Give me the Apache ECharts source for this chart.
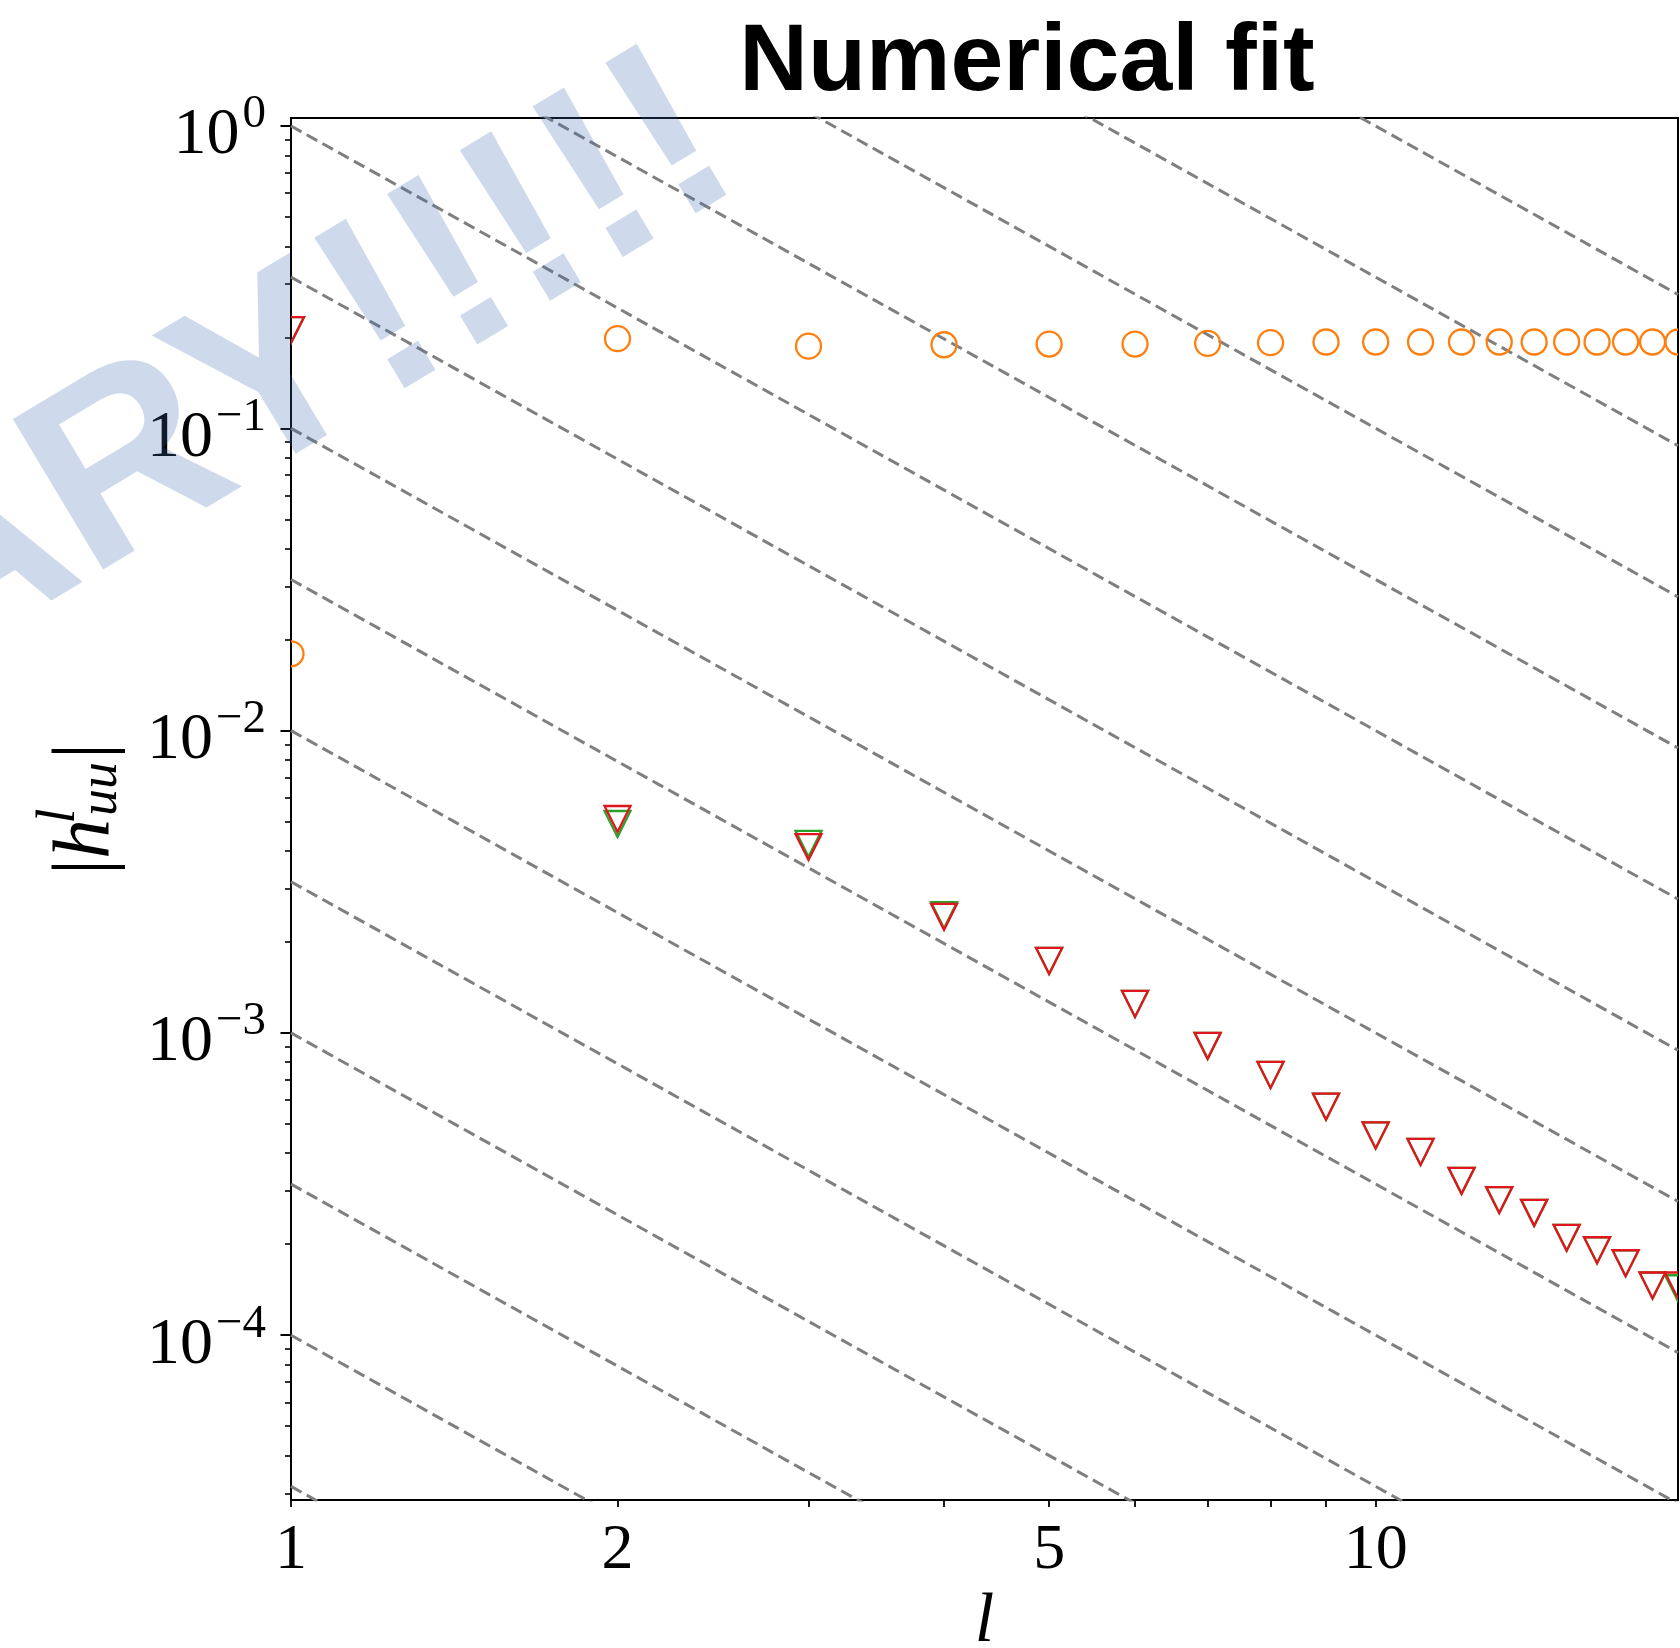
<!DOCTYPE html>
<html>
<head>
<meta charset="utf-8">
<script src="https://cdn.jsdelivr.net/npm/echarts@6/dist/echarts.min.js"></script>
<style>
html,body{margin:0;padding:0;background:#fff;}
#chart{width:1680px;height:1648px;}
</style>
</head>
<body>
<div id="chart"></div>
<script>
// ---------------- data ----------------
const lValues = [1,2,3,4,5,6,7,8,9,10,11,12,13,14,15,16,17,18,19];
const orangeCircles = [0.01795,0.198,0.187,0.189,0.190,0.190,0.191,0.192,0.193,0.193,0.193,0.193,0.193,0.193,0.193,0.193,0.193,0.193,0.193];
const redTriangles = [0.2114,0.00510,0.00412,0.00242,0.00173,0.001247,0.000906,0.000726,0.000570,0.000458,0.000404,0.000324,0.000280,0.000254,0.000210,0.000191,0.000173,0.000146,0.000146];
const greenTriangles = [0.2114,0.00491,0.00422,0.00245,0.00173,0.001247,0.000906,0.000726,0.000570,0.000458,0.000404,0.000324,0.000280,0.000254,0.000210,0.000191,0.000173,0.000146,0.000143];
// guide lines |h| = A * l^(-2)
const guideAmplitudes = [100,31.62,10,3.162,1,0.3162,0.1,0.03162,0.01,0.003162,0.001,0.0003162,0.0001,0.00003162];
const guideExponent = -2;
// axes
const xRange = [1, 19];
const yRange = [2.85e-5, 1.063];
const xTicks = [1,2,3,4,5,6,7,8,9,10];
const xTickLabels = [1, 2, 5, 10];
const yTickLabels = [1, 0.1, 0.01, 0.001, 0.0001];
const yMinorMantissas = [2,3,4,5,6,7,8,9];
const yMinorDecades = [1e-5,1e-4,1e-3,1e-2,1e-1];
const titleText = 'Numerical fit';
const watermarkText = 'ARY!!!!!';

// ---------------- helpers ----------------
const lg = Math.log10;
const xMin = lg(xRange[0]), xMax = lg(xRange[1]);
const yMin = lg(yRange[0]), yMax = lg(yRange[1]);
const yMinor = [];
yMinorDecades.forEach(d => yMinorMantissas.forEach(m => {
  const v = lg(m * d);
  if (v > yMin && v < yMax) yMinor.push(v);
}));
function pts(ys) { return lValues.map((x, i) => [lg(x), lg(ys[i])]); }

const SERIF = '"Liberation Serif", "DejaVu Serif", serif';
const markerHalf = 13;

function circleItem(color) {
  return function (params, api) {
    const p = api.coord([api.value(0), api.value(1)]);
    return { type: 'circle', shape: { cx: p[0], cy: p[1], r: markerHalf - 0.5 },
      style: { fill: 'none', stroke: color, lineWidth: 2.3 } };
  };
}
function triangleItem(color) {
  return function (params, api) {
    const p = api.coord([api.value(0), api.value(1)]);
    const h = markerHalf;
    return { type: 'polygon', shape: { points: [[p[0]-h, p[1]-h], [p[0]+h, p[1]-h], [p[0], p[1]+h]] },
      style: { fill: 'none', stroke: color, lineWidth: 2.3, lineJoin: 'miter' } };
  };
}

const guideSeries = guideAmplitudes.map(a => ({
  type: 'line', silent: true, showSymbol: false, symbol: 'none', clip: true, z: 1,
  data: [[xMin, lg(a) + guideExponent * xMin], [xMax, lg(a) + guideExponent * xMax]],
  lineStyle: { color: '#7f7f7f', width: 3, type: [12, 6] }
}));

function supLabel(v) {
  const e = Math.round(v);
  return '{b|10}{sup|' + (e < 0 ? '\u2212' + (-e) : String(e)) + '}';
}

const chart = echarts.init(document.getElementById('chart'), null, { renderer: 'canvas' });
chart.setOption({
  animation: false,
  backgroundColor: '#ffffff',
  title: {
    text: titleText, left: 1022, top: 11, textAlign: 'center',
    textStyle: { fontFamily: '"Liberation Sans", Arial, sans-serif', fontWeight: 'bold', fontSize: 95, color: '#000' }
  },
  grid: { left: 291, right: 2, top: 118, bottom: 148, show: true, borderColor: '#000', borderWidth: 2,
    backgroundColor: 'transparent', containLabel: false, outerBoundsMode: 'none' },
  xAxis: [
    {
      type: 'value', min: xMin, max: xMax, position: 'bottom',
      axisLine: { show: false, onZero: false }, splitLine: { show: false },
      axisTick: { show: true, customValues: xTicks.map(lg), length: 7, lineStyle: { color: '#000', width: 1.8 } },
      axisLabel: { customValues: xTickLabels.map(lg), formatter: v => String(Math.round(Math.pow(10, v))),
        fontFamily: SERIF, fontSize: 64, color: '#000', margin: 19 },
      name: 'l', nameLocation: 'middle', nameGap: 88,
      nameTextStyle: { fontFamily: SERIF, fontStyle: 'italic', fontSize: 70, color: '#000' }
    }
  ],
  yAxis: [
    {
      type: 'value', min: yMin, max: yMax, position: 'left',
      axisLine: { show: false, onZero: false }, splitLine: { show: false },
      axisTick: { show: true, customValues: yTickLabels.map(lg), length: 10.5, lineStyle: { color: '#000', width: 2 } },
      axisLabel: { customValues: yTickLabels.map(lg), formatter: supLabel, margin: 25, color: '#000',
        rich: {
          b: { fontFamily: SERIF, fontSize: 66, color: '#000', padding: [20, 0, 0, 0] },
          sup: { fontFamily: SERIF, fontSize: 47, color: '#000', padding: [0, 0, 22, 3] }
        } },
      name: '{bar||}{h|h}{sup|l}{sub|uu}{bar||}', nameLocation: 'middle', nameGap: 150, nameRotate: 90,
      nameTextStyle: {
        rich: {
          bar: { fontFamily: SERIF, fontSize: 80, color: '#000' },
          h: { fontFamily: SERIF, fontStyle: 'italic', fontSize: 80, color: '#000', padding: [0, 3, 0, 0] },
          sup: { fontFamily: SERIF, fontStyle: 'italic', fontSize: 54, color: '#000', width: 0, padding: [0, 0, 54, 0] },
          sub: { fontFamily: SERIF, fontStyle: 'italic', fontSize: 54, color: '#000', padding: [30, 3, 0, 0] }
        }
      }
    },
    {
      type: 'value', min: yMin, max: yMax, position: 'left',
      axisLine: { show: false, onZero: false }, splitLine: { show: false },
      axisTick: { show: true, customValues: yMinor, length: 6, lineStyle: { color: '#000', width: 1.6 } },
      axisLabel: { show: false }
    }
  ],
  series: guideSeries.concat([
    { type: 'custom', name: 'orange', clip: true, z: 3, renderItem: circleItem('#ff7f0e'), data: pts(orangeCircles), encode: { x: 0, y: 1 } },
    { type: 'custom', name: 'green', clip: true, z: 3, renderItem: triangleItem('#2ca02c'), data: pts(greenTriangles), encode: { x: 0, y: 1 } },
    { type: 'custom', name: 'red', clip: true, z: 4, renderItem: triangleItem('#e0161c'), data: pts(redTriangles), encode: { x: 0, y: 1 } }
  ]),
  graphic: [{
    type: 'text', x: -40, y: 722, rotation: 31 * Math.PI / 180, z: 100, silent: true,
    style: { text: watermarkText, fontFamily: '"Liberation Sans", Arial, sans-serif', fontWeight: 'bold', fontSize: 255,
      fill: 'rgba(60,107,176,0.25)', align: 'left', verticalAlign: 'bottom', textAlign: 'left', textVerticalAlign: 'bottom' }
  }]
});
</script>
</body>
</html>
